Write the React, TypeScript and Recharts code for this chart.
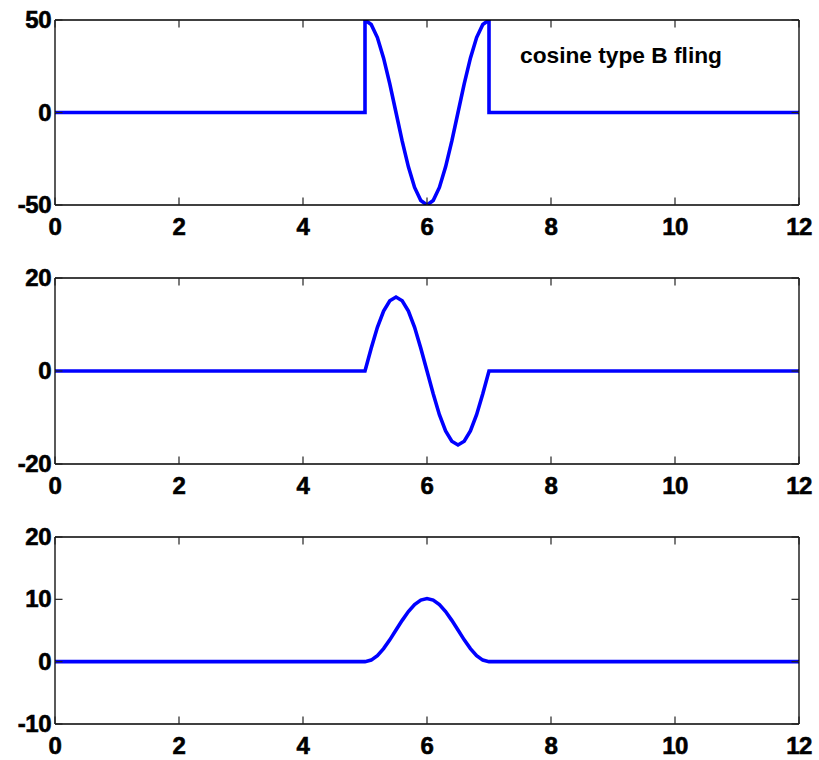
import React from "react";
import { LineChart, Line, XAxis, YAxis } from "recharts";

// sample times across the pulse window (s)
const pulseTime = [
  5.0, 5.1, 5.2, 5.3, 5.4, 5.5, 5.6, 5.7, 5.8, 5.9, 6.0,
  6.1, 6.2, 6.3, 6.4, 6.5, 6.6, 6.7, 6.8, 6.9, 7.0,
];

// acceleration inside the pulse window
const accelValues = [
  50, 47.6, 40.5, 29.4, 15.5, 0, -15.5, -29.4, -40.5, -47.6, -50,
  -47.6, -40.5, -29.4, -15.5, 0, 15.5, 29.4, 40.5, 47.6, 50,
];

// velocity inside the pulse window
const velValues = [
  0, 4.9, 9.4, 12.9, 15.1, 15.9, 15.1, 12.9, 9.4, 4.9, 0,
  -4.9, -9.4, -12.9, -15.1, -15.9, -15.1, -12.9, -9.4, -4.9, 0,
];

// displacement inside the pulse window
const dispValues = [
  0, 0.25, 0.97, 2.09, 3.5, 5.07, 6.63, 8.04, 9.16, 9.88, 10.13,
  9.88, 9.16, 8.04, 6.63, 5.07, 3.5, 2.09, 0.97, 0.25, 0,
];

const xTicks = [0, 2, 4, 6, 8, 10, 12];
const accelTicks = [-50, 0, 50];
const velTicks = [-20, 0, 20];
const dispTicks = [-10, 0, 10, 20];

type Pt = { t: number; v: number };

// zero before 5 s and after 7 s, with the pulse samples in between
function buildSeries(values: number[]): Pt[] {
  const pts: Pt[] = [{ t: 0, v: 0 }, { t: 5, v: 0 }];
  pulseTime.forEach((t, i) => pts.push({ t, v: values[i] }));
  pts.push({ t: 7, v: 0 }, { t: 12, v: 0 });
  return pts;
}

const FONT = "'Liberation Sans', Arial, Helvetica, sans-serif";
const TICK_LEN = 7.5;
const TICK_COLOR = "#222";
const LABEL_SIZE = 24;

const labelStyle = {
  fontFamily: FONT,
  fontWeight: "bold" as const,
  fontSize: LABEL_SIZE,
  fill: "#000",
  stroke: "#000",
  strokeWidth: 0.6,
  letterSpacing: -0.5,
};

const BottomTick = (p: any) => (
  <g>
    <line x1={p.x} y1={p.y} x2={p.x} y2={p.y - TICK_LEN} stroke={TICK_COLOR} strokeWidth={1.2} />
    <text x={p.x} y={p.y + 30} textAnchor="middle" style={labelStyle}>
      {p.payload.value}
    </text>
  </g>
);

const TopTick = (p: any) => (
  <line x1={p.x} y1={p.y} x2={p.x} y2={p.y + TICK_LEN} stroke={TICK_COLOR} strokeWidth={1.2} />
);

const LeftTick = (p: any) => (
  <g>
    <line x1={p.x} y1={p.y} x2={p.x + TICK_LEN} y2={p.y} stroke={TICK_COLOR} strokeWidth={1.2} />
    <text x={p.x - 4} y={p.y + 8} textAnchor="end" style={labelStyle}>
      {p.payload.value}
    </text>
  </g>
);

const RightTick = (p: any) => (
  <line x1={p.x} y1={p.y} x2={p.x - TICK_LEN} y2={p.y} stroke={TICK_COLOR} strokeWidth={1.2} />
);

const axisLine = { stroke: "#000", strokeWidth: 1.3 };

interface PanelProps {
  data: Pt[];
  yTicks: number[];
  top: number;
  boxHeight: number;
}

function Panel({ data, yTicks, top, boxHeight }: PanelProps) {
  const yDomain: [number, number] = [yTicks[0], yTicks[yTicks.length - 1]];
  return (
    <div style={{ position: "absolute", left: 0, top: top - 20 }}>
      <LineChart
        width={819}
        height={boxHeight + 20 + 45}
        data={data}
        margin={{ top: 19, right: 19, bottom: 0, left: 0 }}
      >
        <XAxis
          xAxisId="bottom"
          dataKey="t"
          type="number"
          domain={[0, 12]}
          ticks={xTicks}
          allowDataOverflow
          height={45}
          tickSize={0}
          tickMargin={0}
          tickLine={false}
          axisLine={axisLine}
          tick={BottomTick}
        />
        <XAxis
          xAxisId="top"
          orientation="top"
          dataKey="t"
          type="number"
          domain={[0, 12]}
          ticks={xTicks}
          allowDataOverflow
          height={1}
          tickSize={0}
          tickMargin={0}
          tickLine={false}
          axisLine={axisLine}
          tick={TopTick}
        />
        <YAxis
          yAxisId="left"
          type="number"
          domain={yDomain}
          ticks={yTicks}
          allowDataOverflow
          width={55}
          tickSize={0}
          tickMargin={0}
          tickLine={false}
          axisLine={axisLine}
          tick={LeftTick}
        />
        <YAxis
          yAxisId="right"
          orientation="right"
          type="number"
          domain={yDomain}
          ticks={yTicks}
          allowDataOverflow
          width={1}
          tickSize={0}
          tickMargin={0}
          tickLine={false}
          axisLine={axisLine}
          tick={RightTick}
        />
        <Line
          xAxisId="bottom"
          yAxisId="left"
          type="linear"
          dataKey="v"
          stroke="#0000ff"
          strokeWidth={3.6}
          dot={false}
          isAnimationActive={false}
        />
      </LineChart>
    </div>
  );
}

export default function App() {
  return (
    <div style={{ position: "absolute", left: 0, top: 0, width: 819, height: 760, background: "#fff" }}>
      <Panel data={buildSeries(accelValues)} yTicks={accelTicks} top={20} boxHeight={185} />
      <Panel data={buildSeries(velValues)} yTicks={velTicks} top={278} boxHeight={186} />
      <Panel data={buildSeries(dispValues)} yTicks={dispTicks} top={537} boxHeight={187} />
      <svg style={{ position: "absolute", left: 0, top: 0 }} width={819} height={100}>
        <text
          x={520}
          y={62.5}
          fontFamily={FONT}
          fontWeight="bold"
          fontSize={22}
          textLength={202}
          lengthAdjust="spacingAndGlyphs"
          fill="#000"
        >
          cosine type B fling
        </text>
      </svg>
    </div>
  );
}
